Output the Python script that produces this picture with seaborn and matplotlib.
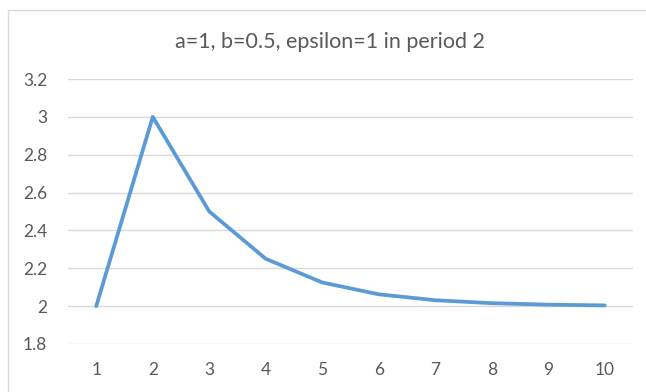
import matplotlib
matplotlib.use("Agg")
import matplotlib.pyplot as plt
import seaborn as sns
import pandas as pd
from matplotlib.patches import Rectangle

periods = [1, 2, 3, 4, 5, 6, 7, 8, 9, 10]
values = [2.0, 3.0, 2.5, 2.25, 2.125, 2.0625, 2.03125, 2.015625, 2.0078, 2.0039]
yticks = [1.8, 2.0, 2.2, 2.4, 2.6, 2.8, 3.0, 3.2]
ytick_labels = ["1.8", "2", "2.2", "2.4", "2.6", "2.8", "3", "3.2"]
title = "a=1, b=0.5, epsilon=1 in period 2"

sns.set_theme(style="white")
plt.rcParams['font.family'] = ['Lato', 'DejaVu Sans']

df = pd.DataFrame({"period": periods, "value": values})

fig = plt.figure(figsize=(6.46, 3.92), dpi=100)
ax = fig.add_axes([68/646, 1-344/392, (633-68)/646, (344-79)/392])

fig.patches.append(Rectangle((8/646, -0.1), 1.2, 1-10/392+0.1, transform=fig.transFigure,
                             fill=False, edgecolor="#D9D9D9", linewidth=1.0))

sns.lineplot(data=df, x="period", y="value", ax=ax, color="#5B9BD5", linewidth=2.7)

ax.set_xlim(0.5, 10.5)
ax.set_ylim(1.8, 3.2)
ax.set_yticks(yticks)
ax.set_yticklabels(ytick_labels)
ax.set_xticks(periods)
ax.set_xticklabels([str(p) for p in periods])
ax.grid(axis="y", color="#D9D9D9", linewidth=1.0)
ax.set_axisbelow(True)
for s in ax.spines.values():
    s.set_visible(False)
ax.tick_params(axis="both", length=0, labelsize=12.5, colors="#595959")
ax.tick_params(axis="y", pad=15)
ax.tick_params(axis="x", pad=13)
ax.set_xlabel("")
ax.set_ylabel("")
fig.text(330/646, 1-42/392, title, ha="center", va="center", fontsize=15.5, color="#595959")

fig.savefig("out.png", dpi=100)
